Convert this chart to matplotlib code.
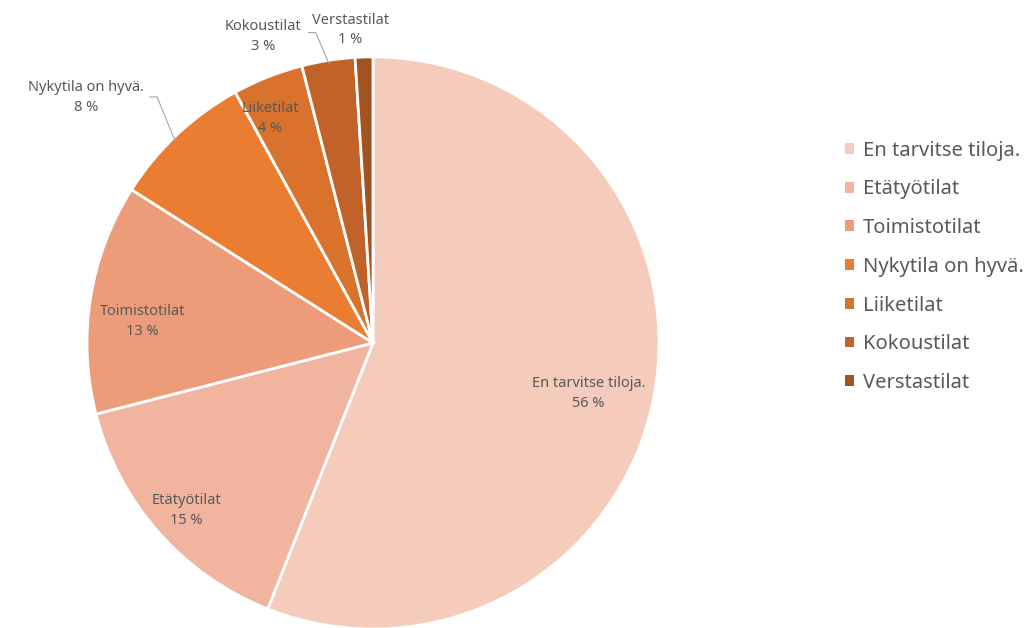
import numpy as np
import matplotlib
matplotlib.use("Agg")
from matplotlib import pyplot as plt
from matplotlib.patches import Patch

labels = ["En tarvitse tiloja.", "Etätyötilat", "Toimistotilat", "Nykytila on hyvä.",
          "Liiketilat", "Kokoustilat", "Verstastilat"]
values = [56, 15, 13, 8, 4, 3, 1]
colors = ["#F5CBBC", "#F1B59F", "#EC9C78", "#EB7D32", "#D9722C", "#C0622A", "#A3531F"]

plt.rcParams['font.family'] = ['Noto Sans', 'DejaVu Sans']
text_color = "#595959"

fig = plt.figure(figsize=(10.26, 6.28), dpi=100)
ax = fig.add_axes([0.0848, -0.0016, 0.5575, 0.911])

wedges, _ = ax.pie(values, colors=colors, startangle=90, counterclock=False,
                   wedgeprops=dict(edgecolor="white", linewidth=2))
ax.set_xlim(-1, 1)
ax.set_ylim(-1, 1)
ax.set_aspect("auto")

# labels inside: (radius, angle offset from slice middle)
inside = {0: (0.775, -2.5), 1: (0.875, 0.5), 2: (0.81, 3.8), 4: (0.862, 3.0)}
# small slices get their label outside, some with a leader line
outside_pos = {3: (-1.003, 0.857), 5: (-0.385, 1.07), 6: (-0.08, 1.094)}
leader = {3: ((-0.78, 0.86), (-0.755, 0.86)), 5: ((-0.226, 1.085), (-0.2, 1.085))}

for i, w in enumerate(wedges):
    mid = (w.theta1 + w.theta2) / 2
    txt = f"{labels[i]}\n{values[i]} %"
    if i in inside:
        r, off = inside[i]
        a = np.deg2rad(mid + off)
        ax.text(r * np.cos(a), r * np.sin(a), txt, ha="center", va="center",
                fontsize=10.5, color=text_color, linespacing=1.45)
    else:
        x, y = outside_pos[i]
        ax.text(x, y, txt, ha="center", va="center", fontsize=10.5,
                color=text_color, linespacing=1.45)
        if i in leader:
            (x0, y0), (x1, y1) = leader[i]
            a = np.deg2rad(mid + (1.2 if i == 3 else 0))
            tx, ty = 0.99 * np.cos(a), 0.99 * np.sin(a)
            ax.plot([x0, x1, tx], [y0, y1, ty], color="#A6A6A6", lw=0.8,
                    clip_on=False)

handles = [Patch(facecolor=c, edgecolor="none") for c in colors]
fig.legend(handles, labels, loc="upper left", bbox_to_anchor=(0.806, 0.805),
           frameon=False, fontsize=14.5, labelcolor=text_color,
           handlelength=0.45, handleheight=0.45, handletextpad=0.45,
           labelspacing=0.93)

fig.savefig("out.png", dpi=100)
